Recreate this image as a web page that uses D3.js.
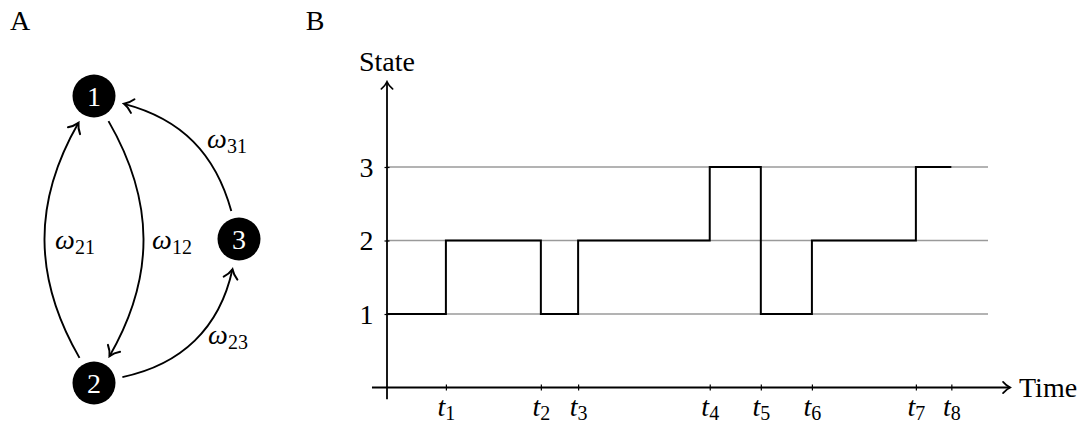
<!DOCTYPE html>
<html>
<head>
<meta charset="utf-8">
<script src="https://cdn.jsdelivr.net/npm/d3@7"></script>
<style>
  html, body { margin: 0; padding: 0; background: #fff; }
</style>
</head>
<body>
<svg id="fig" width="1087" height="423"></svg>
<script>
// ---- Panel B data: a three-state jump process ----
const eventTimes = [0.98, 2.56, 3.18, 5.37, 6.22, 7.07, 8.80, 9.39];
const eventSubscripts = ["1", "2", "3", "4", "5", "6", "7", "8"];
const stateSequence = [1, 2, 1, 2, 3, 1, 2, 3];   // state held from the previous event onwards
const stateTicks = [1, 2, 3];

// ---- Panel A data: transition graph ----
const nodeIds = [1, 2, 3];
const edgeSources = [2, 1, 2, 3];
const edgeTargets = [1, 2, 3, 1];
const edgeRateLabels = ["21", "12", "23", "31"];

const SERIF = "Liberation Serif";
const FONT = 28;
const SUB = 20;

const svg = d3.select("#fig");

// arrow heads (TikZ-like open "to" tips)
const defs = svg.append("defs");
function arrowMarker(id, s, w) {
  defs.append("marker")
    .attr("id", id)
    .attr("markerUnits", "userSpaceOnUse")
    .attr("viewBox", "-13 -10 15 20")
    .attr("refX", 0).attr("refY", 0)
    .attr("markerWidth", 15 * s).attr("markerHeight", 20 * s)
    .attr("orient", "auto")
    .append("path")
    .attr("d", "M-9,-7 C-6,-3.4 -2.2,-1 0,0 C-2.2,1 -6,3.4 -9,7")
    .attr("fill", "none").attr("stroke", "#000")
    .attr("stroke-width", w).attr("stroke-linecap", "round");
}
arrowMarker("tip", 1, 2);
arrowMarker("tipAxis", 0.8, 2.1);

function addText(sel, str, size) {
  return sel.append("text").attr("font-family", SERIF).attr("font-size", size || FONT)
    .attr("fill", "#000").text(str);
}

// ---------------- Panel A ----------------
addText(svg, "A").attr("x", 10).attr("y", 30);

const nodePos = { 1: [94, 96], 2: [94, 383], 3: [239, 239] };
const nodeR = 21.5;
const bend = { "2-1": -30, "1-2": -30, "2-3": 33, "3-1": 30 };
const labelPos = { "21": [75, 243], "12": [172, 243], "23": [228, 338], "31": [227, 142] };
const startGap = 29, endGap = 31;

const gA = svg.append("g");
edgeSources.forEach((s, i) => {
  const t = edgeTargets[i];
  const a = nodePos[s], b = nodePos[t];
  const phi = Math.atan2(b[1] - a[1], b[0] - a[0]);
  const beta = bend[s + "-" + t] * Math.PI / 180;
  const outA = phi + beta, inA = phi + Math.PI - beta;
  const p0 = [a[0] + startGap * Math.cos(outA), a[1] + startGap * Math.sin(outA)];
  const p3 = [b[0] + endGap * Math.cos(inA), b[1] + endGap * Math.sin(inA)];
  const k = 0.3915 * Math.hypot(p3[0] - p0[0], p3[1] - p0[1]);
  const p1 = [p0[0] + k * Math.cos(outA), p0[1] + k * Math.sin(outA)];
  const p2 = [p3[0] + k * Math.cos(inA), p3[1] + k * Math.sin(inA)];
  const path = d3.path();
  path.moveTo(p0[0], p0[1]);
  path.bezierCurveTo(p1[0], p1[1], p2[0], p2[1], p3[0], p3[1]);
  gA.append("path").attr("d", path.toString())
    .attr("fill", "none").attr("stroke", "#000").attr("stroke-width", 1.9)
    .attr("marker-end", "url(#tip)");

  const lp = labelPos[edgeRateLabels[i]];
  const txt = gA.append("text").attr("x", lp[0]).attr("y", lp[1] + 6)
    .attr("text-anchor", "middle").attr("font-family", SERIF).attr("font-size", FONT);
  txt.append("tspan").attr("font-family", SERIF).attr("font-style", "italic").text("ω");
  txt.append("tspan").attr("font-family", SERIF).attr("font-size", SUB).attr("dy", 5)
    .text(edgeRateLabels[i]);
});

const nodeG = gA.selectAll("g.node").data(nodeIds).join("g")
  .attr("class", "node")
  .attr("transform", d => `translate(${nodePos[d][0]},${nodePos[d][1]})`);
nodeG.append("circle").attr("r", nodeR).attr("fill", "#000");
nodeG.append("text").attr("text-anchor", "middle").attr("dy", 9.5)
  .attr("font-family", SERIF).attr("font-size", FONT).attr("fill", "#fff").text(d => d);

// ---------------- Panel B ----------------
addText(svg, "B").attr("x", 315).attr("y", 30).attr("text-anchor", "middle");

const x = d3.scaleLinear().domain([0, 10]).range([387, 988]);
const y = d3.scaleLinear().domain([0, 3]).range([387.5, 167]);

const gB = svg.append("g");

// horizontal guide lines at each state
gB.selectAll("line.grid").data(stateTicks).join("line")
  .attr("class", "grid")
  .attr("x1", x(0)).attr("x2", x(10))
  .attr("y1", d => y(d)).attr("y2", d => y(d))
  .attr("stroke", "#9a9a9a").attr("stroke-width", 1.3);

// axes with arrow tips
gB.append("line").attr("x1", x(-0.25)).attr("x2", x(10.37))
  .attr("y1", y(0)).attr("y2", y(0))
  .attr("stroke", "#000").attr("stroke-width", 1.8).attr("marker-end", "url(#tipAxis)");
gB.append("line").attr("x1", x(0)).attr("x2", x(0))
  .attr("y1", y(-0.16)).attr("y2", y(4.16))
  .attr("stroke", "#000").attr("stroke-width", 1.8).attr("marker-end", "url(#tipAxis)");

// x ticks via d3 axis
const xAxis = d3.axisBottom(x).tickValues(eventTimes).tickSizeInner(6).tickSizeOuter(0)
  .tickFormat(() => "");
const gx = gB.append("g").attr("transform", `translate(0,${y(0) - 3})`).call(xAxis);
gx.select(".domain").remove();
gx.selectAll(".tick line").attr("stroke", "#000").attr("stroke-width", 1.2);
gx.selectAll(".tick text").remove();
gx.selectAll(".tick").each(function (d, i) {
  const t = d3.select(this).append("text")
    .attr("y", 31).attr("text-anchor", "middle")
    .attr("font-family", SERIF).attr("font-size", FONT).attr("fill", "#000");
  t.append("tspan").attr("font-family", SERIF).attr("font-style", "italic").text("t");
  t.append("tspan").attr("font-family", SERIF).attr("font-size", SUB).attr("dy", 4)
    .text(eventSubscripts[i]);
});

// y ticks via d3 axis
const yAxis = d3.axisLeft(y).tickValues(stateTicks).tickSizeInner(5).tickSizeOuter(0)
  .tickPadding(11).tickFormat(d3.format("d"));
const gy = gB.append("g").attr("transform", `translate(${x(0) + 2.5},0)`).call(yAxis);
gy.select(".domain").remove();
gy.selectAll(".tick line").attr("stroke", "#000").attr("stroke-width", 1.2);
gy.selectAll(".tick text").attr("font-size", FONT).attr("font-family", SERIF)
  .attr("fill", "#000").attr("dy", "0.33em");

// axis titles
addText(gB, "State").attr("x", x(0)).attr("y", 71).attr("text-anchor", "middle");
addText(gB, "Time").attr("x", 1019).attr("y", y(0) + 9);

// state trajectory
const pts = [[0, stateSequence[0]]];
eventTimes.forEach((t, i) => {
  pts.push([t, stateSequence[Math.min(i + 1, stateSequence.length - 1)]]);
});
const line = d3.line().x(d => x(d[0])).y(d => y(d[1])).curve(d3.curveStepAfter);
gB.append("path").datum(pts).attr("d", line)
  .attr("fill", "none").attr("stroke", "#000").attr("stroke-width", 2)
  .attr("stroke-linejoin", "miter");
</script>
</body>
</html>
